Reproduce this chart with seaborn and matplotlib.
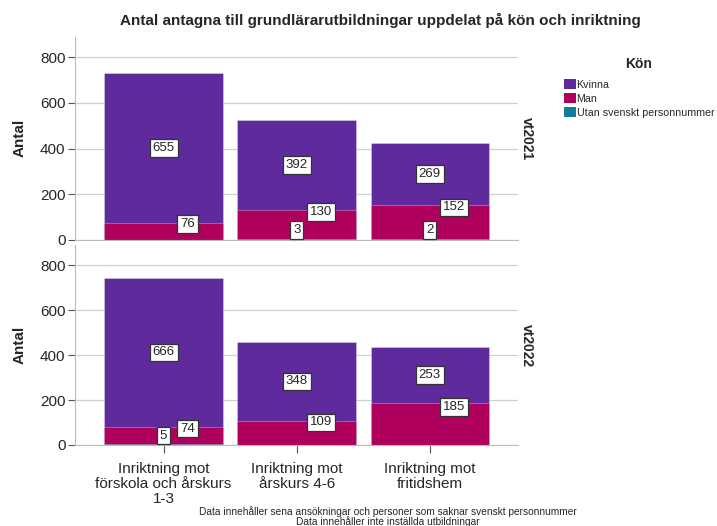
import matplotlib
matplotlib.use("Agg")
import matplotlib.pyplot as plt
import seaborn as sns
import pandas as pd
import numpy as np
from matplotlib.patches import Patch

sns.set_style("white")
plt.rcParams['font.family'] = ['Liberation Sans', 'DejaVu Sans']

categories = ["Inriktning mot\nförskola och årskurs\n1-3", "Inriktning mot\nårskurs 4-6", "Inriktning mot\nfritidshem"]
terms = ["vt2021", "vt2022"]
kvinna = {"vt2021": [655, 392, 269], "vt2022": [666, 348, 253]}
man = {"vt2021": [76, 130, 152], "vt2022": [74, 109, 185]}
utan = {"vt2021": [0, 3, 2], "vt2022": [5, 0, 0]}
series_names = ["Kvinna", "Man", "Utan svenskt personnummer"]
colors = ["#5f2a9c", "#b0005e", "#13799d"]

fig = plt.figure(figsize=(7.17, 5.26), dpi=100)
ax_pos = [[0.105, 0.544, 0.617, 0.386], [0.105, 0.154, 0.617, 0.38]]
bar_w = 0.89

for i, term in enumerate(terms):
    ax = fig.add_axes(ax_pos[i])
    k = np.array(kvinna[term]); m = np.array(man[term]); u = np.array(utan[term])
    df = pd.DataFrame({"cat": categories, "tot": k + m + u, "mu": m + u, "u": u})
    for col, c in zip(["tot", "mu", "u"], colors):
        sns.barplot(data=df, x="cat", y=col, color=c, width=bar_w, ax=ax,
                    saturation=1, edgecolor=(1, 1, 1, 0.35), linewidth=0.6)
    bbox = dict(boxstyle="square,pad=0.22", fc="white", ec="#333333", lw=0.9)
    for j in range(3):
        ax.text(j, u[j] + m[j] + k[j] / 2, str(k[j]), ha="center", va="center", fontsize=9.5, bbox=bbox, zorder=5)
        ax.text(j + 0.18, u[j] + m[j] * 0.92, str(m[j]), ha="center", va="center", fontsize=9.5, bbox=bbox, zorder=5)
        if u[j] > 0:
            ax.text(j, 42, str(u[j]), ha="center", va="center", fontsize=9.5, bbox=bbox, zorder=6)
    ax.set_ylim(0, 890)
    ax.set_xlim(-0.663, 2.66)
    ax.set_yticks([0, 200, 400, 600, 800])
    ax.yaxis.grid(True, color="#d0d0d0", lw=0.9)
    ax.set_axisbelow(True)
    for s in ["top", "right"]:
        ax.spines[s].set_visible(False)
    ax.spines["left"].set_color("#bbbbbb")
    ax.spines["bottom"].set_color("#bbbbbb")
    ax.tick_params(axis="y", left=True, length=5, color="#555555", labelsize=11, pad=2)
    ax.set_ylabel("Antal", fontsize=11, fontweight="bold", labelpad=10)
    ax.set_xlabel("")
    ax.text(1.005, 0.5, term, transform=ax.transAxes, rotation=-90, ha="left", va="center",
            fontsize=10, fontweight="bold")
    if i == 0:
        ax.set_xticks([])
    else:
        ax.tick_params(axis="x", bottom=True, length=6, color="#555555", labelsize=11, pad=6)
        ax.set_xticks(range(3))
        ax.set_xticklabels(categories, linespacing=1.12)

fig.text(0.53, 0.962, "Antal antagna till grundlärarutbildningar uppdelat på kön och inriktning",
         ha="center", va="center", fontsize=11, fontweight="bold")

handles = [Patch(facecolor=c, edgecolor="none", label=n) for c, n in zip(colors, series_names)]
leg = fig.legend(handles=handles, title="Kön", loc="upper left", bbox_to_anchor=(0.786, 0.892),
                 frameon=False, fontsize=7.7, handlelength=1.12, handleheight=1.1,
                 handletextpad=0.1, labelspacing=0.3, borderaxespad=0, borderpad=0)
leg.get_title().set_fontweight("bold")
leg.get_title().set_fontsize(10)
leg._legend_box.align = "center"
leg._legend_box.sep = 6

fig.text(0.541, 0.018, "Data innehåller sena ansökningar och personer som saknar svenskt personnummer\nData innehåller inte inställda utbildningar",
         ha="center", va="center", fontsize=7.3, linespacing=0.95)

fig.savefig("out.png", dpi=100)
